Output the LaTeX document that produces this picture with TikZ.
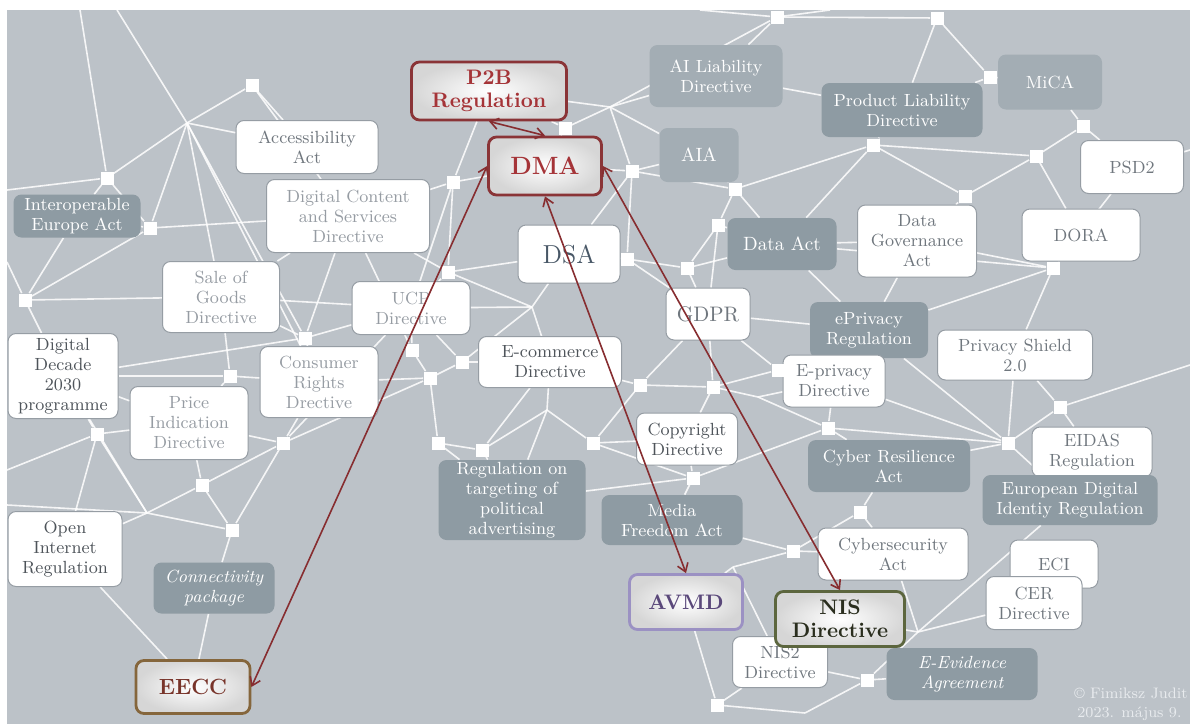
\documentclass[tikz,border=0pt]{standalone}
\usepackage{tikz}
\usetikzlibrary{shapes, arrows.meta, positioning}
\definecolor{slidebg}{RGB}{188,194,200}
\definecolor{boxline}{RGB}{150,157,164}
\definecolor{darkbox}{RGB}{142,155,163}
\definecolor{lightbox}{RGB}{163,173,180}
\definecolor{txtdark}{RGB}{78,84,90}
\definecolor{txtmid}{RGB}{112,119,126}
\definecolor{txtlight}{RGB}{150,156,163}
\definecolor{dsablue}{RGB}{72,87,102}
\definecolor{arrowred}{RGB}{135,45,48}
\definecolor{p2bred}{RGB}{165,52,56}
\definecolor{p2bline}{RGB}{138,52,55}
\definecolor{eeccline}{RGB}{133,102,60}
\definecolor{eecctxt}{RGB}{120,52,42}
\definecolor{avmdline}{RGB}{155,145,195}
\definecolor{avmdtxt}{RGB}{90,72,122}
\definecolor{nisline}{RGB}{92,102,62}
\definecolor{nistxt}{RGB}{42,46,30}
\definecolor{signtxt}{RGB}{232,235,238}
\pgfdeclarelayer{back}
\pgfdeclarelayer{web}
\pgfsetlayers{back,web,main}
\tikzstyle{every node}=[font=\fontsize{8.8}{10}\selectfont, align=center, inner sep=1pt]
\tikzstyle{wbox}=[draw=boxline, fill=white, rounded corners=4pt, line width=0.5pt, text=txtmid]
\tikzstyle{gbox}=[fill=darkbox, rounded corners=4pt, text=white]
\tikzstyle{lbox}=[fill=lightbox, rounded corners=4pt, text=white]
\tikzstyle{hbox}=[rounded corners=4pt, line width=1.4pt, inner color=white, outer color=black!16, font=\fontsize{10.5}{11.5}\selectfont\bfseries]
\tikzstyle{hub}=[rectangle, fill=white, minimum size=6.5pt, inner sep=0pt]
\tikzstyle{webline}=[draw=white, line width=0.8pt, opacity=0.85]
\tikzstyle{link}=[draw=arrowred, line width=0.8pt, <->]
\tikzstyle{signtext}=[text=signtxt, font=\fontsize{7.6}{9}\selectfont, anchor=west, inner sep=0pt]
\tikzset{sz/.style 2 args={minimum width=#1pt, minimum height=#2pt}}

\begin{document}
\begin{tikzpicture}[x=0.5pt, y=-0.5pt, >={Straight Barb[length=4pt,width=5.5pt]}]
    \useasboundingbox (0,0) rectangle (1190,724);
    \begin{pgfonlayer}{back}
        \fill[white] (0,0) rectangle (1190,724);
        \fill[slidebg] (7,10) rectangle (1190,724);
    \end{pgfonlayer}

    \node[gbox, sz={63.5}{21.5}] (interop) at (77,216) {Interoperable\\Europe Act};
    \node[wbox, sz={71}{26.5}] (acc) at (307,147) {Accessibility\\Act};
    \node[wbox, sz={81.5}{36.5}, text=txtlight] (dcsd) at (348,216) {Digital Content\\and Services\\Directive};
    \node[hbox, sz={77.5}{29}, draw=p2bline, text=p2bred] (p2b) at (489,91) {P2B\\Regulation};
    \node[hbox, sz={56.5}{29}, draw=p2bline, text=p2bred, font=\fontsize{12.5}{14}\selectfont\bfseries] (dma) at (545,166) {DMA};
    \node[lbox, sz={66.5}{31}] (ailiab) at (716,76) {AI Liability\\Directive};
    \node[lbox, sz={39.5}{27}, font=\fontsize{9.6}{11}\selectfont] (aia) at (699,155) {AIA};
    \node[lbox, sz={52}{27.5}] (mica) at (1050,82) {MiCA};
    \node[gbox, sz={80.5}{27}] (pld) at (902,110) {Product Liability\\Directive};
    \node[wbox, sz={51.5}{26.5}] (psd) at (1132,167) {PSD2};
    \node[wbox, sz={59}{26}] (dora) at (1081,235) {DORA};
    \node[wbox, sz={59.5}{36}] (dga) at (917,241) {Data\\Governance\\Act};
    \node[gbox, sz={54.5}{26}, font=\fontsize{9.6}{11}\selectfont] (dact) at (782,244) {Data Act};
    \node[wbox, sz={51}{29}, text=dsablue, font=\fontsize{13}{15}\selectfont] (dsa) at (569,254) {DSA};
    \node[wbox, sz={42}{26}, font=\fontsize{10.5}{12}\selectfont] (gdpr) at (708,314) {GDPR};
    \node[gbox, sz={59}{28}] (eprreg) at (869,330) {ePrivacy\\Regulation};
    \node[wbox, sz={77.5}{25}] (pshield) at (1015,355) {Privacy Shield\\2.0};
    \node[wbox, sz={51}{26}] (eprdir) at (834,381) {E-privacy\\Directive};
    \node[wbox, sz={58.5}{35.5}, text=txtlight] (sog) at (221,297) {Sale of\\Goods\\Directive};
    \node[wbox, sz={59}{26.5}, text=txtlight] (ucp) at (411,308) {UCP\\Directive};
    \node[wbox, sz={55}{42.5}, text=txtdark] (ddec) at (63,376) {Digital\\Decade\\2030\\programme};
    \node[wbox, sz={59}{36.5}, text=txtlight] (pid) at (189,423) {Price\\Indication\\Directive};
    \node[wbox, sz={59}{35.5}, text=txtlight] (crd) at (319,382) {Consumer\\Rights\\Drective};
    \node[wbox, sz={71.5}{25.5}, text=txtdark] (ecom) at (550,362) {E-commerce\\Directive};
    \node[wbox, sz={50.5}{26}, text=txtdark] (copyr) at (687,439) {Copyright\\Directive};
    \node[gbox, sz={73.5}{40}] (polad) at (512,500) {Regulation on\\targeting of\\political\\advertising};
    \node[gbox, sz={70.5}{25}] (mfa) at (672,520) {Media\\Freedom Act};
    \node[hbox, sz={56.5}{27.5}, draw=avmdline, text=avmdtxt] (avmd) at (686,602) {AVMD};
    \node[wbox, sz={47.5}{25.5}] (nistwo) at (780,662) {NIS2\\Directive};
    \node[hbox, sz={64.5}{27.5}, draw=nisline, text=nistxt] (nis) at (840,619) {NIS\\Directive};
    \node[gbox, sz={81}{26}] (cra) at (889,466) {Cyber Resilience\\Act};
    \node[wbox, sz={75}{26}] (csa) at (893,554) {Cybersecurity\\Act};
    \node[wbox, sz={60}{25}] (eidas) at (1092,452) {EIDAS\\Regulation};
    \node[gbox, sz={87.5}{25}] (edir) at (1070,500) {European Digital\\Identiy Regulation};
    \node[wbox, sz={44}{24}] (eci) at (1054,564) {ECI};
    \node[wbox, sz={48}{26.5}] (cer) at (1034,603) {CER\\Directive};
    \node[gbox, sz={75.5}{26}, font=\fontsize{8.8}{10}\selectfont\itshape] (eevid) at (962,674) {E-Evidence\\Agreement};
    \node[wbox, sz={57}{37.5}, text=txtdark] (oir) at (65,549) {Open\\Internet\\Regulation};
    \node[gbox, sz={60.5}{25.5}, font=\fontsize{8.8}{10}\selectfont\itshape] (conn) at (214,588) {Connectivity\\package};
    \node[hbox, sz={57}{26.5}, draw=eeccline, text=eecctxt, font=\fontsize{11}{12}\selectfont\bfseries] (eecc) at (193,687) {EECC};

    \foreach \n/\x/\y in {h1/252/85, h2/107/178, h3/150/228, h5/777/17, h6/565/128, h7/453/182,
        h8/632/171, h9/735/189, h11/937/18, h12/990/77, h13/873/145, h14/1036/156, h15/1083/126,
        h16/965/196, h17/25/300, h18/305/338, h19/230/376, h20/97/434, h21/283/443, h22/202/485,
        h23/627/259, h24/687/268, h26/462/362, h28/430/378, h29/412/350, h30/640/385, h31/713/387,
        h33/778/370, h35/438/443, h36/482/450, h37/593/443, h38/693/478, h39/1053/268, h40/1060/407,
        h41/1008/443, h42/828/428, h44/232/530, h45/793/551, h46/717/705, h48/860/512, h50/867/680,
        h52/718/225, h53/448/272}
        \node[hub] (\n) at (\x,\y) {};
    \foreach \n/\x/\y in {h4/187/123, h10/610/107, h25/532/307, h32/758/397, h34/547/410,
        h43/147/513, h47/733/567, h49/918/632, h51/805/713, e1/80/10, e2/117/10, e3/7/190,
        e4/7/262, e5/7/470, e6/7/505, e7/700/10, e8/830/10, e9/1190/150, e10/1190/365}
        \coordinate (\n) at (\x,\y);

    \begin{pgfonlayer}{web}
    \foreach \a/\b in {e1/h2, e2/h4, h4/h1, h4/h2, h4/acc, h4/h3, h4/sog, h4/h18, h4/crd, h1/acc,
        h1/dcsd, h2/interop, h2/h3, h2/e3, h3/interop, h3/dcsd, h3/h17, h17/ddec, h17/sog,
        h17/interop, h17/e4, ddec/h18, ddec/h19, ddec/h20, ddec/pid, sog/h19, sog/h18, sog/dcsd,
        sog/ucp, h18/crd, h18/ucp, h18/dcsd, h19/pid, h19/crd, h20/pid, h20/h43, h20/oir, h20/e5,
        h21/crd, h21/pid, h21/h22, h21/ucp, h21/h28, h22/pid, h22/h43, h22/h44, h43/oir, h43/h44,
        h43/ddec, h43/e6, h44/conn, h44/h21, conn/eecc, oir/eecc,
        dcsd/h7, h7/dma, h7/p2b, h7/ucp, h7/h53, h53/dsa, h53/ucp, h53/dcsd, h53/h25, h6/p2b,
        h6/dma, h6/h10, h10/p2b, h10/ailiab, h10/h5, h10/aia, h10/h8, h8/dma, h8/dsa, h8/aia,
        h8/h9, h9/aia, h9/dact, h9/h52, h52/dact, h52/gdpr, h52/h24, h23/dsa, h23/gdpr, h23/h8,
        h23/h24, h24/gdpr, h24/dact, h25/dsa, h25/ecom, h25/ucp, h25/h26, h26/ucp, h26/ecom,
        h26/h28, h28/h29, h29/ucp, h28/h35, h35/h36, h36/ecom, h36/polad, h35/polad, h34/ecom,
        h34/h36, h34/h37, h34/polad, h37/copyr, h37/h30, h30/ecom, h30/gdpr, h30/h31, h31/gdpr,
        h31/copyr, h31/h33, h33/eprdir, h33/gdpr, h32/eprdir, h32/h31, h38/copyr, h38/mfa,
        h38/polad, h38/h37, h38/h42, h42/cra, h42/eprdir, h42/h32, h45/mfa, h45/csa, h45/h47,
        h47/avmd, h47/nistwo, h48/cra, h48/csa, h48/h45, h49/nis, h49/csa, h49/cer, h49/edir,
        h49/h50, h50/nistwo, h50/eevid, h51/h50, h51/h46, h46/nistwo, h46/avmd, h28/crd, h29/dcsd,
        h5/ailiab, h5/h11, h5/e7, h5/e8, h11/h12, h11/pld, h12/mica, h12/pld, h13/pld, h13/h14,
        h13/h16, h13/dact, h14/h15, h14/h16, h14/dora, h15/mica, h15/psd, h16/dga, dga/dact,
        dga/h39, h39/dora, h39/psd, h39/eprreg, h39/pshield, h39/dact, h40/pshield, h40/h41,
        h40/eidas, h41/eprdir, h41/pshield, h41/edir, h41/cra, h41/eprreg, dga/eprreg, eprreg/h33,
        h42/h41, h40/e10, psd/e9, ailiab/pld, h9/h13, dact/eprreg, gdpr/eprreg}
        \draw[webline] (\a) -- (\b);
    \end{pgfonlayer}

    \draw[link] (p2b.south) -- (dma.north);
    \draw[link] (eecc.east) -- (dma.west);
    \draw[link] (dma.south) -- (avmd.north);
    \draw[link] (dma.east) -- (nis.north);

    \node[signtext] (sign1) at (1074,693) {\textcopyright{} Fimiksz Judit};
    \node[signtext] (sign2) at (1077,714) {2023. május 9.};
\end{tikzpicture}
\end{document}
